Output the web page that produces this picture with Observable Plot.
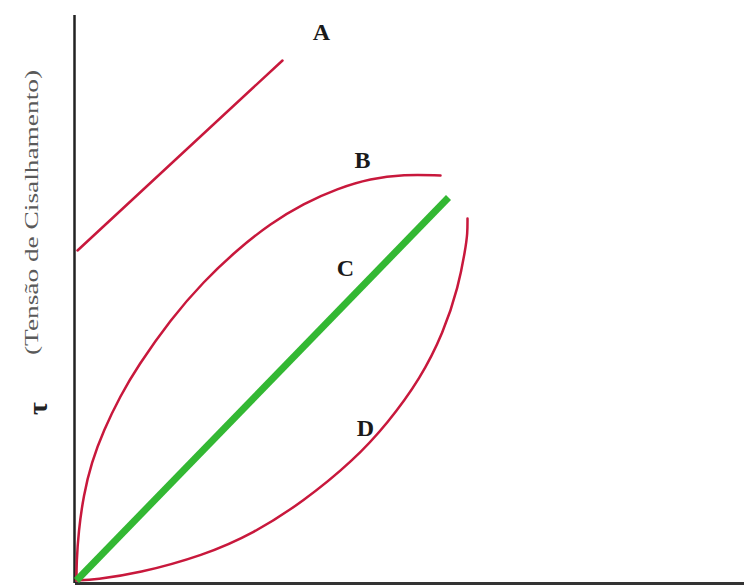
<!DOCTYPE html>
<html>
<head>
<meta charset="utf-8">
<script src="https://cdn.jsdelivr.net/npm/d3@7"></script>
<script src="https://cdn.jsdelivr.net/npm/@observablehq/plot@0.6"></script>
<style>
  html, body { margin: 0; padding: 0; background: #fff; }
</style>
</head>
<body>
<div id="chart"></div>
<script>
// Shear rate (x) vs shear stress tau (y), arbitrary units
const curveA = [[2, 333], [207, 523]];
const curveB = [[1, 3], [1, 20], [3, 52], [8, 88], [16, 121], [28, 153], [45, 188], [62, 217], [95, 264], [128, 302], [162, 334], [195, 360], [228, 380], [262, 395], [295, 405], [328, 409], [365, 408]];
const curveC = [[1, 3], [373, 386]];
const curveD = [[1, 3], [20, 4], [62, 10], [128, 28], [178, 50], [228, 82], [278, 123], [312, 160], [345, 205], [368, 251], [383, 297], [390, 335], [392, 350], [392, 365]];
const labels = [
  {name: "A", x: 246, y: 551},
  {name: "B", x: 287, y: 423},
  {name: "C", x: 270, y: 315},
  {name: "D", x: 290, y: 155}
];
const yTitle = "(Tensão de Cisalhamento)";
const ySymbol = "τ";

const toRows = (arr) => arr.map(([x, y]) => ({x, y}));

const chart = Plot.plot({
  width: 744,
  height: 588,
  marginLeft: 75,
  marginRight: 0,
  marginTop: 15,
  marginBottom: 5,
  x: {domain: [0, 669], axis: null},
  y: {domain: [0, 568], axis: null},
  style: {background: "#fff"},
  marks: [
    Plot.ruleY([0], {stroke: "#333", strokeWidth: 3}),
    Plot.ruleX([-1], {y1: 0, y2: 568, stroke: "#222", strokeWidth: 2.5}),
    Plot.line(toRows(curveA), {x: "x", y: "y", stroke: "#c8183c", strokeWidth: 2.5}),
    Plot.line(toRows(curveB), {x: "x", y: "y", stroke: "#c8183c", strokeWidth: 2.5, curve: "basis"}),
    Plot.line(toRows(curveD), {x: "x", y: "y", stroke: "#c8183c", strokeWidth: 2.5, curve: "basis"}),
    Plot.line(toRows(curveC), {x: "x", y: "y", stroke: "#33b833", strokeWidth: 7, strokeLinecap: "butt"}),
    Plot.text(labels, {x: "x", y: "y", text: "name", fontFamily: "Liberation Serif", fontWeight: "bold", fontSize: 24, fill: "#1a1a1a"}),
    Plot.text([yTitle], {x: -44, y: 371, text: d => d, rotate: -90, fontFamily: "Liberation Serif", fontSize: 19, fill: "#5a5a5a", className: "ytitle"}),
    Plot.text([ySymbol], {x: -37, y: 175, text: d => d, rotate: -90, fontFamily: "Liberation Serif", fontWeight: "bold", fontSize: 28, fill: "#222"})
  ]
});
document.getElementById("chart").appendChild(chart);
// stretch the rotated axis title to the length it has in the reference
d3.select(chart).selectAll(".ytitle text")
  .attr("textLength", 285)
  .attr("lengthAdjust", "spacingAndGlyphs");
</script>
</body>
</html>
